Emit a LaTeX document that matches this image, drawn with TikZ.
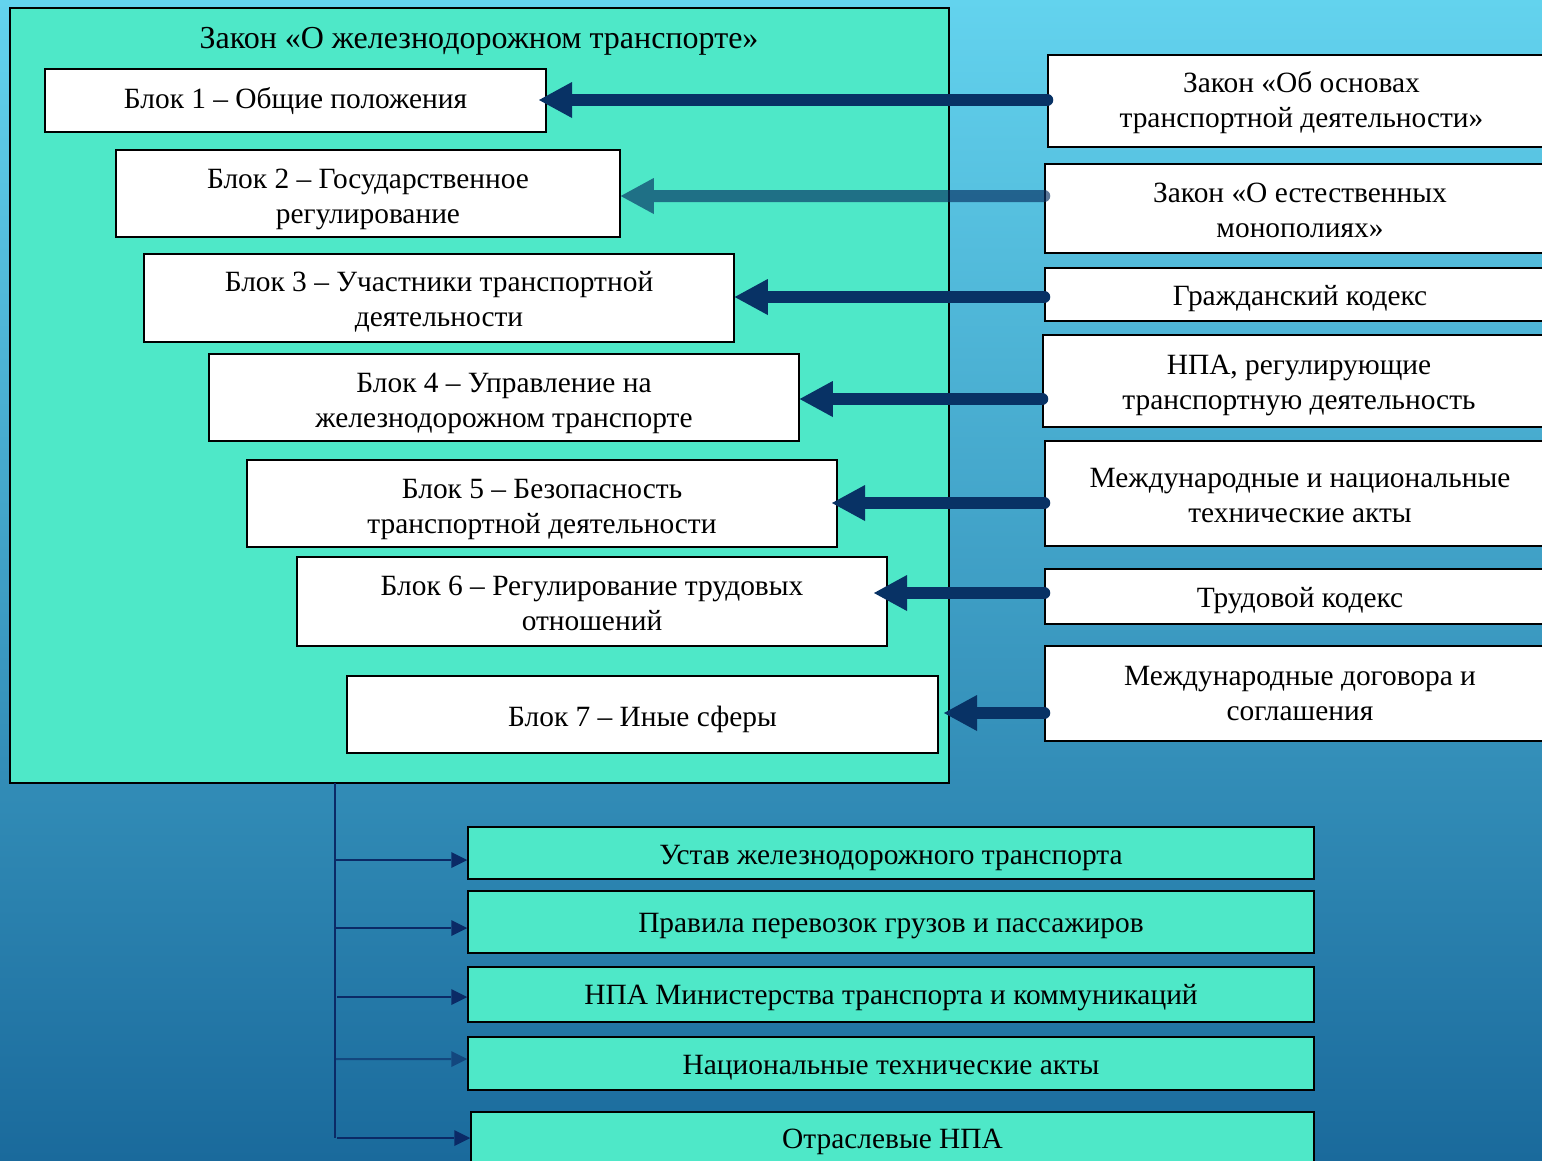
\documentclass[tikz,border=0pt]{standalone}
\usepackage{fontspec}
\setmainfont{Liberation Serif}
\usetikzlibrary{arrows.meta}
\definecolor{bgtop}{HTML}{63D3EE}
\definecolor{bgbot}{HTML}{1A6A9C}
\definecolor{tealfill}{HTML}{4EE8C8}
\definecolor{navyA}{HTML}{083265}
\definecolor{navyB}{HTML}{0B2A66}
\begin{document}
\begin{tikzpicture}[x=1pt,y=-1pt,
  every node/.style={font=\fontsize{29.4}{35}\selectfont},
  lbl/.style={align=center,inner sep=0pt},
  wbox/.style={draw=black,line width=1.5pt,fill=white,inner sep=0pt},
  tbox/.style={draw=black,line width=1.5pt,fill=tealfill,inner sep=0pt},
  bigarr/.style={navyA,line width=12pt,line cap=round,-{Triangle[length=33pt,width=36pt,line width=0pt]}},
  smallarr/.style={navyB,line width=2pt,-{Triangle[length=16pt,width=16pt,line width=0pt]}}]
\useasboundingbox (0,0) rectangle (1542,1160);
\shade[top color=bgtop,bottom color=bgbot] (0,0) rectangle (1542,1160);

% main box
\node[tbox,minimum width=939pt,minimum height=775pt] (main) at (479.5,395.5) {};
\node[font=\fontsize{32}{38}\selectfont] (title) at (479,41) {Закон «О железнодорожном транспорте»};

\node[wbox,minimum width=501pt,minimum height=63pt,label={[lbl,yshift=-1pt]center:Блок 1 – Общие положения}] (b1) at (295.5,100.5) {};
\node[wbox,minimum width=504pt,minimum height=87pt,label={[lbl,yshift=-6pt]center:Блок 2 – Государственное\\регулирование}] (b2) at (368,193.5) {};
\node[wbox,minimum width=590pt,minimum height=88pt,label={[lbl,yshift=-4pt]center:Блок 3 – Участники транспортной\\деятельности}] (b3) at (439,298) {};
\node[wbox,minimum width=590pt,minimum height=87pt,label={[lbl,yshift=-6pt]center:Блок 4 – Управление на\\железнодорожном  транспорте}] (b4) at (504,397.5) {};
\node[wbox,minimum width=590pt,minimum height=87pt,label={[lbl,yshift=-6pt]center:Блок 5 – Безопасность\\транспортной деятельности}] (b5) at (542,503.5) {};
\node[wbox,minimum width=590pt,minimum height=89pt,label={[lbl,yshift=-2pt]center:Блок 6 – Регулирование трудовых\\отношений}] (b6) at (592,601.5) {};
\node[wbox,minimum width=591pt,minimum height=77pt,label={[lbl,yshift=-5pt]center:Блок 7 – Иные сферы}] (b7) at (642.5,714.5) {};

% right boxes
\node[wbox,minimum width=507pt,minimum height=92pt,label={[lbl,yshift=-2pt]center:Закон «Об основах\\транспортной деятельности»}] (r1) at (1301.5,101) {};
\node[wbox,minimum width=510pt,minimum height=89pt,label={[lbl,yshift=-2pt]center:Закон «О естественных\\монополиях»}] (r2) at (1300,208.5) {};
\node[wbox,minimum width=510pt,minimum height=53pt,label={[lbl,yshift=-4pt]center:Гражданский кодекс}] (r3) at (1300,294.5) {};
\node[wbox,minimum width=512pt,minimum height=92pt,label={[lbl,yshift=-4pt]center:НПА, регулирующие\\транспортную деятельность}] (r4) at (1299,381) {};
\node[wbox,minimum width=510pt,minimum height=105pt,label={[lbl,yshift=-2pt]center:Международные и национальные\\технические акты}] (r5) at (1300,493.5) {};
\node[wbox,minimum width=510pt,minimum height=55pt,label={[lbl,yshift=-4pt]center:Трудовой кодекс}] (r6) at (1300,596.5) {};
\node[wbox,minimum width=510pt,minimum height=95pt,label={[lbl,yshift=0pt]center:Международные договора и\\соглашения}] (r7) at (1300,693.5) {};

% big arrows
\coordinate (t1) at (539,100);
\coordinate (t5) at (832,503);
\coordinate (t6) at (874,593);
\coordinate (t7) at (944,713);
\draw[bigarr] (r1.west |- t1) -- (t1);
\begin{scope}[transparency group,opacity=0.66]
\draw[bigarr] (r2.west |- 0,196) -- (b2.east |- 0,196);
\end{scope}
\draw[bigarr] (r3.west |- 0,297) -- (b3.east |- 0,297);
\draw[bigarr] (r4.west |- 0,399) -- (b4.east |- 0,399);
\draw[bigarr] (r5.west |- t5) -- (t5);
\draw[bigarr] (r6.west |- t6) -- (t6);
\draw[bigarr] (r7.west |- t7) -- (t7);

% bottom boxes
\node[tbox,minimum width=846pt,minimum height=52pt,label={[lbl,yshift=-5pt]center:Устав железнодорожного  транспорта}] (u1) at (891,853) {};
\node[tbox,minimum width=846pt,minimum height=62pt,label={[lbl,yshift=-4pt]center:Правила перевозок грузов и пассажиров}] (u2) at (891,922) {};
\node[tbox,minimum width=846pt,minimum height=55pt,label={[lbl,yshift=-3pt]center:НПА Министерства транспорта и коммуникаций}] (u3) at (891,994.5) {};
\node[tbox,minimum width=846pt,minimum height=53pt,label={[lbl,yshift=-4pt]center:Национальные технические акты}] (u4) at (891,1063.5) {};
\node[tbox,minimum width=843pt,minimum height=56pt,label={[lbl,yshift=-2pt]center:Отраслевые НПА}] (u5) at (892.5,1140) {};

\coordinate (vtop) at (335,783);
\coordinate (vbot) at (335,1138);
\draw[navyB,line width=2pt] (vtop) -- (vbot);
\draw[smallarr] (vtop |- 0,860) -- (u1.west |- 0,860);
\draw[smallarr] (vtop |- 0,928) -- (u2.west |- 0,928);
\draw[smallarr] (337,997) -- (u3.west |- 0,997);
\begin{scope}[transparency group,opacity=0.6]
\draw[smallarr] (vtop |- 0,1059) -- (u4.west |- 0,1059);
\end{scope}
\draw[smallarr] (337,1138) -- (u5.west |- 0,1138);
\end{tikzpicture}
\end{document}
